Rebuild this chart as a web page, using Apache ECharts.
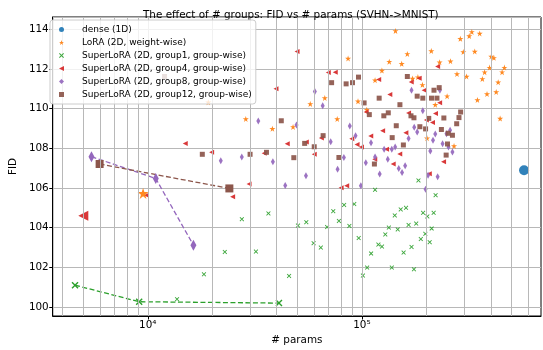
<!DOCTYPE html>
<html><head><meta charset="utf-8">
<script src="https://cdn.jsdelivr.net/npm/echarts@6/dist/echarts.min.js"></script>
<style>html,body{margin:0;padding:0;background:#fff}#c{width:543px;height:350px}</style>
</head><body><div id="c"></div>
<script>
const seriesNames = ['dense (1D)','LoRA (2D, weight-wise)','SuperLoRA (2D, group1, group-wise)','SuperLoRA (2D, group4, group-wise)','SuperLoRA (2D, group8, group-wise)','SuperLoRA (2D, group12, group-wise)'];
const xTickLabels = {4:'10\u2074',5:'10\u2075'};
const xGridValues = [4000,5000,6000,7000,8000,9000,10000,20000,30000,40000,50000,60000,70000,80000,90000,100000,200000,300000,400000,500000,600000];

const densePts = [[571700,106.90]];
const loraBest = [[9510,105.73]];
const g4Best = [[5000,104.60]];
const g1Line = [[4575,101.10],[9120,100.27],[41000,100.20]];
const g8Line = [[5460,107.58],[10900,106.48],[16340,103.12]];
const g12Line = [[5960,107.21],[24050,105.98]];

const loraSmall = [[19170,110.32],[28690,109.48],[143500,113.92],[163000,112.76],[210900,112.91],[86200,112.53],[134200,112.37],[153400,112.26],[230600,112.34],[124000,111.92],[172400,111.52],[182600,111.59],[115200,111.43],[191700,111.20],[67100,110.54],[95900,110.37],[57400,110.24],[220100,110.20],[105400,109.95],[76700,109.48],[38200,108.99],[47700,109.08],[201500,108.51],[326000,113.87],[317100,113.66],[354900,113.79],[288200,113.52],[297500,112.86],[336500,112.88],[401800,112.63],[413500,112.56],[259200,112.39],[394600,112.07],[462800,112.07],[374200,111.84],[451600,111.84],[278000,111.75],[308200,111.62],[365200,111.50],[432900,111.33],[423800,110.84],[383900,110.74],[346300,110.44],[250000,110.63],[442100,109.50],[269300,108.12]];

const g1Small = [[13700,100.40],[18300,101.65],[22900,102.78],[27500,104.43],[36600,104.72],[32000,102.80],[45700,101.57],[50300,104.11],[55000,104.28],[59500,103.22],[64300,103.00],[68800,104.03],[73500,104.83],[78100,104.34],[82600,105.15],[87400,104.09],[92100,105.19],[96600,103.48],[101100,101.59],[105800,101.99],[110400,102.70],[115200,105.91],[119400,103.15],[124100,103.05],[128600,103.66],[133600,104.01],[137900,101.99],[142400,104.62],[147000,103.91],[151800,104.92],[156600,102.75],[160700,105.00],[165200,104.14],[170500,103.03],[175000,101.90],[179300,104.21],[183700,106.38],[188400,103.43],[193100,104.75],[197800,103.69],[202100,104.57],[207300,103.27],[211700,103.96],[216300,104.75],[220900,105.64]];

const g4Small = [[14970,108.25],[19870,107.80],[24910,105.56],[9863,105.64],[49800,112.88],[225800,112.12],[69700,111.82],[75100,111.84],[185100,111.53],[119800,111.47],[170000,111.35],[39700,111.01],[195200,110.93],[135000,110.71],[230600,110.30],[104700,109.83],[165200,109.78],[220600,109.76],[200000,109.43],[213600,109.30],[125000,108.89],[160400,108.79],[110000,108.62],[89700,108.48],[64700,108.52],[44800,108.23],[55000,108.32],[94900,108.19],[99500,108.07],[150200,107.71],[130400,107.95],[34980,107.75],[59900,107.70],[114800,107.45],[140000,107.21],[240600,107.32],[29730,106.20],[84900,106.12],[80000,106.02],[206500,106.72]];

const g8Small = [[21930,107.37],[27490,107.57],[170500,110.93],[60300,110.86],[231300,110.93],[65600,110.15],[192500,109.90],[32820,109.38],[49500,109.18],[87800,109.13],[175500,109.06],[181200,108.82],[220100,108.72],[93400,108.64],[165200,108.50],[214800,108.41],[71500,108.33],[110300,108.28],[127000,107.95],[137900,107.95],[143000,108.07],[208700,107.86],[82400,107.54],[115200,107.56],[132100,107.45],[38400,107.32],[104300,107.27],[159200,107.12],[148600,106.98],[77000,106.95],[54800,106.62],[43850,106.13],[98900,106.12],[121100,106.71],[154000,106.78],[225800,106.57],[198300,105.94],[203700,106.64],[258100,108.91],[248400,108.74],[238100,108.23],[253700,108.07],[264700,107.81]];

const g12Small = [[11980,111.62],[17980,107.70],[30050,107.70],[96400,111.59],[163000,111.62],[72200,111.31],[84400,111.25],[90400,111.31],[217100,110.93],[229600,111.06],[181200,110.63],[192500,110.53],[211400,110.53],[224100,110.53],[120400,110.53],[102400,110.29],[150500,110.20],[108300,109.70],[132800,109.79],[126600,109.64],[169500,109.64],[175000,109.54],[205200,109.51],[241400,109.53],[289100,109.83],[284000,109.55],[277100,109.24],[42030,109.39],[144700,109.14],[186500,109.09],[198300,108.98],[235100,108.95],[252700,108.76],[264700,108.66],[138500,108.54],[65900,108.64],[54040,108.25],[156200,108.17],[59900,108.08],[35840,107.80],[48090,107.53],[78100,107.54],[114400,107.21],[247400,107.66],[251000,108.22]];

const STAR='path://M50,0L61.2,34.5L97.6,34.5L68.2,55.9L79.4,90.5L50,69.1L20.6,90.5L31.8,55.9L2.4,34.5L38.8,34.5Z';
const XMARK='path://M0,14L14,0L50,36L86,0L100,14L64,50L100,86L86,100L50,64L14,100L0,86L36,50Z';
const TRIL='path://M0,50L100,0L100,100Z';
const C = ['#1f77b4','#ff7f0e','#2ca02c','#d62728','#9467bd','#8c564b'];
const legendIcons = ['circle', STAR, XMARK, TRIL, 'diamond', 'rect'];
const FONT = 'DejaVu Sans';

function sc(name, data, symbol, size, color, z){
  return {type:'scatter', name, data, symbol, symbolSize:size, itemStyle:{color, opacity:0.92}, z, animation:false};
}
function ln(name, data, symbol, size, color, z){
  return {type:'line', name:name+' (best)', data, symbol, symbolSize:size, showAllSymbol:true, itemStyle:{color}, lineStyle:{color, width:1.3, type:[5,2.5]}, z, animation:false};
}

const chart = echarts.init(document.getElementById('c'), null, {renderer:'canvas'});
chart.setOption({
  animation:false,
  backgroundColor:'#fff',
  textStyle:{fontFamily:FONT},
  title:{text:'The effect of # groups: FID vs # params (SVHN->MNIST)', left:138, top:5, textStyle:{fontFamily:FONT, fontSize:10.4, fontWeight:'normal', color:'#000'}},
  grid:{left:47, right:2, top:17, bottom:34, show:true, borderColor:'#000', borderWidth:1, backgroundColor:'transparent'},
  legend:{orient:'vertical', left:50, top:20, z:20, padding:[3,4,3,9], itemWidth:5, itemHeight:5, itemGap:0,
    backgroundColor:'rgba(255,255,255,0.8)', borderColor:'#cccccc', borderWidth:1, borderRadius:3,
    data:seriesNames.map((n,i)=>({name:n, icon:legendIcons[i]})),
    textStyle:{fontFamily:FONT, fontSize:9, color:'#000', lineHeight:13, padding:[0,0,0,13]}},
  xAxis:{type:'log', logBase:10, min:3600, max:686000,
    name:'# params', nameLocation:'middle', nameGap:15, nameTextStyle:{fontFamily:FONT, fontSize:10.4, color:'#000'},
    axisLine:{show:true, onZero:false, lineStyle:{color:'#000', width:1}},
    axisTick:{show:true, inside:false, length:3.5, lineStyle:{color:'#000'}},
    axisLabel:{margin:4, fontFamily:FONT, fontSize:10.4, color:'#000', showMinLabel:false, showMaxLabel:false,
      formatter:v=>{const l=Math.log10(v); const r=Math.round(l); return (Math.abs(l-r)<1e-6 && xTickLabels[r])? xTickLabels[r] : '';}},
    splitLine:{show:false}},
  yAxis:{type:'value', min:99.55, max:114.62, splitNumber:7,
    name:'FID', nameLocation:'middle', nameGap:28, nameTextStyle:{fontFamily:FONT, fontSize:10.4, color:'#000'},
    axisLine:{show:true, onZero:false, lineStyle:{color:'#000', width:1}},
    axisTick:{show:true, inside:false, length:3.5, lineStyle:{color:'#000'}},
    axisLabel:{margin:4, fontFamily:FONT, fontSize:10.4, color:'#000', showMinLabel:false, showMaxLabel:false,
      formatter:v=> (Math.abs(v-Math.round(v))<1e-6 ? String(Math.round(v)) : '')},
    splitLine:{show:true, lineStyle:{color:'#b8b8b8', width:1}}},
  series:[
    {type:'line', name:'grid', data:[], z:0, silent:true, animation:false,
      markLine:{silent:true, symbol:['none','none'], label:{show:false}, animation:false,
        lineStyle:{color:'#b8b8b8', width:1, type:'solid'},
        data:xGridValues.map(v=>({xAxis:v}))}},
    sc(seriesNames[0], densePts, 'circle', 10, C[0], 2),
    sc(seriesNames[1], loraSmall, STAR, 6, C[1], 2),
    sc(seriesNames[1], loraBest, STAR, 11, C[1], 3),
    sc(seriesNames[2], g1Small, XMARK, 4.5, C[2], 2),
    ln(seriesNames[2], g1Line, XMARK, 7, C[2], 3),
    sc(seriesNames[3], g4Small, TRIL, 5, C[3], 2),
    sc(seriesNames[3], g4Best, TRIL, 10, C[3], 3),
    sc(seriesNames[4], g8Small, 'diamond', [4,7], C[4], 2),
    ln(seriesNames[4], g8Line, 'diamond', [6,11], C[4], 3),
    sc(seriesNames[5], g12Small, 'rect', 5, C[5], 2),
    ln(seriesNames[5], g12Line, 'rect', 8, C[5], 3)
  ]
});
</script></body></html>
